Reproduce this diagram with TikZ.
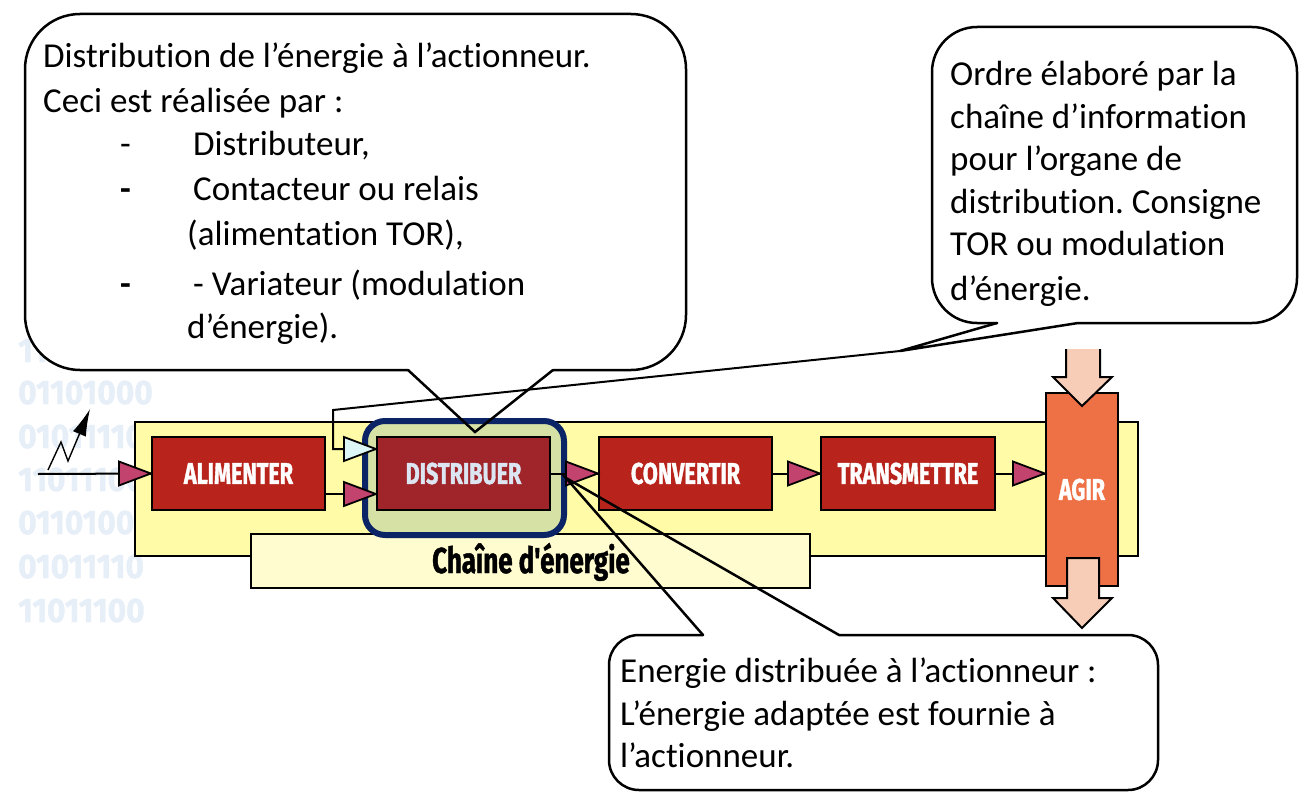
\documentclass[tikz,border=0pt]{standalone}
\usepackage{fontspec}
\setmainfont{Carlito}[Ligatures=CommonOff]
\newfontfamily\condfont[FakeStretch=0.72,FakeBold=1.2,Ligatures=TeXOff]{Fira Sans}
\newfontfamily\bincondfont[FakeStretch=0.93,FakeBold=1]{Fira Sans}
\usetikzlibrary{arrows.meta,calc}
\definecolor{chainred}{HTML}{B8241C}
\definecolor{distred}{HTML}{A0252A}
\definecolor{yel}{HTML}{FFFBA6}
\definecolor{lblyel}{HTML}{FFFCCF}
\definecolor{navy}{HTML}{0B2466}
\definecolor{hlgreen}{HTML}{D6E1A5}
\definecolor{pinkarr}{HTML}{C2436E}
\definecolor{cyanarr}{HTML}{DDF6F6}
\definecolor{agirc}{HTML}{EE7045}
\definecolor{peach}{HTML}{F7CDB8}
\definecolor{binblue}{HTML}{E6EEF8}
\definecolor{dtext}{HTML}{DCE6F2}
\newcommand\chainfont{\condfont\bfseries\fontsize{30}{32}\selectfont}
\newcommand\arrtri[2]{\filldraw[fill=#2,draw=black,line width=1.8pt,line join=miter] #1 -- ++(-32,-12) -- ++(0,24) -- cycle;}
\newcommand\nti{t\kern0pt i}
\frenchspacing
\begin{document}
\begin{tikzpicture}[x=1pt,y=-1pt,
  ctext/.style={anchor=base west, inner sep=0pt, font=\fontsize{35}{42}\selectfont},
  chainbox/.style={draw=black, line width=2.2pt, fill=chainred, inner sep=0pt, minimum width=173pt, minimum height=73pt, text=white, font=\chainfont},
  bin/.style={anchor=base west, inner sep=0pt, text=binblue, font=\bincondfont\bfseries\fontsize{34}{36}\selectfont},
  wire/.style={draw=black, line width=2pt},
  callout/.style={draw=black, line width=2.5pt, line cap=round}]
\useasboundingbox (0,0) rectangle (1306,808);
\fill[white] (0,0) rectangle (1306,808);
% binary background
\node[bin] (b1) at (18,362) {11011100};
\node[bin] (b2) at (18,404) {01101000};
\node[bin] (b3) at (18,448) {01011110};
\node[bin] (b4) at (18,491) {11011100};
\node[bin] (b5) at (18,534) {01101000};
\node[bin] (b6) at (18,578) {01011110};
\node[bin] (b7) at (18,622) {11011100};
% chain frame
\filldraw[fill=yel, draw=black, line width=2pt] (135,422) rectangle (1138,556);
\node[draw=black, line width=2pt, fill=lblyel, minimum width=559pt, minimum height=54pt, inner sep=0pt] (lbl) at (530.5,561) {};
\node[anchor=base, inner sep=0pt, font=\condfont\bfseries\fontsize{36}{38}\selectfont] (lbltxt) at (531,573) {Chaîne d'énergie};
% highlight
\node[draw=navy, line width=6pt, fill=hlgreen, rounded corners=20pt, minimum width=199pt, minimum height=114pt, inner sep=0pt] (hl) at (464.5,478) {};
% boxes
\node[chainbox] (alim) at (238.5,473.5) {ALIMENTER};
\node[chainbox, fill=distred, text=dtext] (dist) at (463.5,473.5) {DISTRIBUER};
\node[chainbox] (conv) at (685.5,473.5) {CONVERTIR};
\node[chainbox, minimum width=174pt] (trans) at (908,473.5) {TRANSMETTRE};
\node[draw=black, line width=2.2pt, fill=agirc, minimum width=72pt, minimum height=193pt, inner sep=0pt, text=white, font=\chainfont] (agir) at (1082,489.5) {AGIR};
% input
\coordinate (inL) at (38,474);
\draw[wire] (inL) -- (alim.west);
\arrtri{(alim.west)}{pinkarr}
\coordinate (z1) at (48,470);
\coordinate (z2) at (61,442);
\coordinate (z3) at (68,461);
\coordinate (z4) at (90,409);
\draw[line width=1.4pt, -{Latex[length=27pt,width=14pt]}] (z1) -- (z2) -- (z3) -- (z4);
% inputs to distribuer
\path (dist.west) ++(0,20.5) coordinate (lowin);
\path (dist.west) ++(0,-24.5) coordinate (upin);
\draw[wire] (alim.east |- lowin) -- (lowin);
\arrtri{(lowin)}{pinkarr}
\coordinate (infotip) at (900,351);
\coordinate (infobend) at (333,410);
\draw[wire] (infotip) -- (infobend) |- (upin);
\arrtri{(upin)}{cyanarr}
% chain connectors
\draw[wire] (dist.east) -- (conv.west);
\arrtri{(conv.west)}{pinkarr}
\draw[wire] (conv.east) -- (trans.west);
\arrtri{(trans.west)}{pinkarr}
\coordinate (agirin) at (agir.west |- trans.east);
\draw[wire] (trans.east) -- (agirin);
\arrtri{(agirin)}{pinkarr}
% peach arrows
\fill[peach] (1066,349) -- (1066,377) -- (1053,377) -- (1082,406) -- (1112,377) -- (1100,377) -- (1100,349) -- cycle;
\draw[line width=2pt, line join=miter] (1066,349) -- (1066,377) -- (1053,377) -- (1082,406) -- (1112,377) -- (1100,377) -- (1100,349);
\filldraw[fill=peach, draw=black, line width=2pt, line join=miter] (1067,558) -- (1067,598) -- (1053,598) -- (1082,628) -- (1112,598) -- (1099,598) -- (1099,558) -- cycle;
% left callout
\fill[white, rounded corners=55pt] (25,14) rectangle (686,370);
\draw[callout, rounded corners=55pt] (553,370) -- (686,370) -- (686,14) -- (25,14) -- (25,370) -- (408,370);
\coordinate (ltip) at (475,432);
\draw[callout, line join=miter] (408,370) -- (ltip) -- (553,370);
\node[ctext] (l1) at (43,67) {Distribu\nti on de l’énergie à l’ac\nti onneur.};
\node[ctext] (l2) at (43,112) {Ceci est réalisée par :};
\node[ctext] (l3a) at (120,155) {-};
\node[ctext] (l3) at (193,155) {Distributeur,};
\node[ctext, font=\fontsize{35}{42}\selectfont\bfseries] (l4a) at (120,200) {-};
\node[ctext] (l4) at (193,200) {Contacteur ou relais};
\node[ctext] (l5) at (187,245) {(alimenta\nti on TOR),};
\node[ctext, font=\fontsize{35}{42}\selectfont\bfseries] (l6a) at (120,295) {-};
\node[ctext] (l6) at (193,295) {- Variateur (modula\nti on};
\node[ctext] (l7) at (187,338) {d’énergie).};
% right callout
\fill[white, rounded corners=45pt] (932,27) rectangle (1297,323);
\draw[callout, rounded corners=45pt] (1078,323) -- (1297,323) -- (1297,27) -- (932,27) -- (932,323) -- (997,323);
\draw[callout, line join=miter] (997,323) -- (infotip) -- (1078,323);
\node[ctext] (r1) at (950,85) {Ordre élaboré par la};
\node[ctext] (r2) at (950,128) {chaîne d’informa\nti on};
\node[ctext] (r3) at (950,170) {pour l’organe de};
\node[ctext] (r4) at (950,213) {distribu\nti on. Consigne};
\node[ctext] (r5) at (950,255) {TOR ou modula\nti on};
\node[ctext] (r6) at (950,300) {d’énergie.};
% bottom callout
\fill[white, rounded corners=30pt] (609,635) rectangle (1158,790);
\draw[callout, rounded corners=30pt] (839,635) -- (1158,635) -- (1158,790) -- (609,790) -- (609,635) -- (703,635);
\coordinate (btip) at (566,478);
\draw[callout, line join=miter] (703,635) -- (btip) -- (839,635);
\node[ctext] (d1) at (620,682) {Energie distribuée à l’ac\nti onneur :};
\node[ctext] (d2) at (620,725) {L’énergie adaptée est fournie à};
\node[ctext] (d3) at (620,767) {l’ac\nti onneur.};
\end{tikzpicture}
\end{document}
